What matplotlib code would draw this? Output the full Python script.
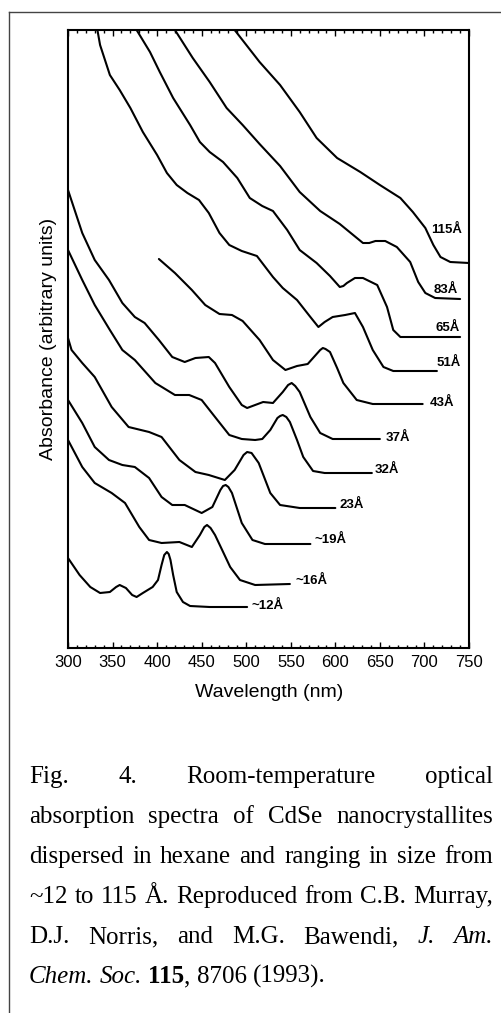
import re
import matplotlib
matplotlib.use('Agg')
import matplotlib.pyplot as plt
from matplotlib.lines import Line2D
from matplotlib.ticker import MultipleLocator

# CdSe absorption spectra
# wavelength in nm, absorbance in arbitrary units (curves are offset)
wl_115 = [487, 515, 538, 560, 579, 602, 628, 650, 673, 687, 701, 710, 718, 729, 750]
ab_115 = [6.18, 5.86, 5.63, 5.36, 5.10, 4.90, 4.76, 4.63, 4.50, 4.36, 4.20, 4.03, 3.91, 3.86, 3.85]

wl_83 = [420, 440, 459, 478, 496, 515, 538, 560, 583, 605, 631, 638, 645, 656, 669, 684, 693, 701, 712, 740]
ab_83 = [6.18, 5.90, 5.66, 5.40, 5.23, 5.04, 4.82, 4.56, 4.37, 4.24, 4.05, 4.05, 4.07, 4.07, 4.01, 3.86, 3.66, 3.55, 3.50, 3.49]

wl_65 = [377, 392, 403, 418, 437, 448, 459, 474, 490, 504, 518, 530, 546, 560, 579, 594, 605, 609, 613, 622, 631, 647, 658, 665, 673, 740]
ab_65 = [6.18, 5.96, 5.76, 5.50, 5.23, 5.06, 4.96, 4.86, 4.70, 4.50, 4.42, 4.37, 4.18, 3.98, 3.85, 3.72, 3.61, 3.62, 3.65, 3.70, 3.70, 3.63, 3.41, 3.18, 3.11, 3.11]

wl_51 = [333, 336, 347, 358, 370, 384, 400, 411, 422, 434, 447, 458, 470, 481, 495, 512, 530, 541, 557, 572, 581, 588, 597, 611, 622, 631, 642, 654, 665, 714]
ab_51 = [6.18, 6.03, 5.73, 5.58, 5.40, 5.16, 4.93, 4.75, 4.63, 4.55, 4.48, 4.35, 4.15, 4.03, 3.97, 3.92, 3.71, 3.60, 3.48, 3.31, 3.21, 3.26, 3.31, 3.33, 3.35, 3.21, 2.98, 2.81, 2.77, 2.77]

wl_43 = [402, 420, 439, 454, 470, 484, 496, 515, 530, 544, 557, 569, 578, 583, 586, 589, 594, 602, 609, 624, 642, 698]
ab_43 = [3.89, 3.75, 3.58, 3.43, 3.34, 3.33, 3.27, 3.08, 2.88, 2.78, 2.82, 2.84, 2.93, 2.98, 3.00, 2.99, 2.96, 2.80, 2.65, 2.48, 2.44, 2.44]

wl_37 = [300, 316, 330, 346, 361, 375, 386, 402, 417, 431, 443, 458, 465, 481, 495, 501, 519, 530, 541, 547, 551, 555, 560, 572, 583, 597, 650]
ab_37 = [4.58, 4.15, 3.88, 3.68, 3.45, 3.31, 3.25, 3.08, 2.91, 2.86, 2.90, 2.91, 2.85, 2.61, 2.43, 2.40, 2.46, 2.45, 2.56, 2.63, 2.65, 2.62, 2.56, 2.31, 2.15, 2.09, 2.09]

wl_32 = [300, 316, 330, 347, 361, 375, 398, 420, 436, 450, 465, 481, 495, 510, 518, 527, 535, 538, 541, 545, 549, 557, 564, 575, 588, 641]
ab_32 = [3.98, 3.68, 3.43, 3.18, 2.98, 2.88, 2.65, 2.53, 2.53, 2.48, 2.31, 2.13, 2.09, 2.08, 2.09, 2.18, 2.30, 2.32, 2.33, 2.31, 2.26, 2.08, 1.91, 1.77, 1.75, 1.75]

wl_23 = [300, 304, 316, 330, 349, 368, 391, 405, 425, 443, 458, 476, 487, 497, 501, 506, 514, 527, 538, 560, 600]
ab_23 = [3.10, 2.98, 2.85, 2.71, 2.41, 2.21, 2.16, 2.11, 1.88, 1.76, 1.73, 1.68, 1.78, 1.93, 1.96, 1.95, 1.85, 1.55, 1.43, 1.40, 1.40]

wl_19 = [300, 316, 330, 346, 361, 375, 391, 405, 417, 431, 450, 462, 471, 474, 477, 480, 484, 495, 507, 521, 572]
ab_19 = [2.48, 2.25, 2.01, 1.88, 1.83, 1.81, 1.70, 1.51, 1.43, 1.43, 1.35, 1.41, 1.58, 1.62, 1.63, 1.61, 1.55, 1.25, 1.08, 1.04, 1.04]

wl_16 = [300, 316, 330, 349, 364, 380, 391, 405, 425, 439, 448, 453, 456, 460, 465, 473, 482, 493, 510, 549]
ab_16 = [2.08, 1.81, 1.65, 1.55, 1.45, 1.21, 1.08, 1.05, 1.06, 1.01, 1.13, 1.21, 1.23, 1.20, 1.13, 0.98, 0.81, 0.68, 0.63, 0.64]

wl_12 = [300, 313, 325, 336, 347, 354, 358, 365, 372, 377, 384, 395, 401, 405, 408, 411, 413, 415, 418, 422, 429, 437, 459, 501]
ab_12 = [0.90, 0.73, 0.61, 0.55, 0.56, 0.61, 0.63, 0.60, 0.53, 0.51, 0.55, 0.61, 0.68, 0.83, 0.93, 0.96, 0.94, 0.88, 0.73, 0.56, 0.46, 0.42, 0.41, 0.41]

spectra = [(wl_115, ab_115), (wl_83, ab_83), (wl_65, ab_65), (wl_51, ab_51),
           (wl_43, ab_43), (wl_37, ab_37), (wl_32, ab_32), (wl_23, ab_23),
           (wl_19, ab_19), (wl_16, ab_16), (wl_12, ab_12)]
size_labels = ['115Å', '83Å', '65Å', '51Å', '43Å', '37Å', '32Å', '23Å', '~19Å', '~16Å', '~12Å']
# where each size label sits (nm, arb. units)
label_pos = [(708, 4.18), (710, 3.58), (712, 3.20), (714, 2.85), (706, 2.45), (656, 2.10),
             (644, 1.78), (605, 1.43), (577, 1.08), (555, 0.67), (506, 0.42)]

caption_lines = [
    "Fig. 4. Room-temperature optical",
    "absorption spectra of CdSe nanocrystallites",
    "dispersed in hexane and ranging in size from",
    "~12 to 115 Å. Reproduced from C.B. Murray,",
    "D.J. Norris, and M.G. Bawendi, *J.* *Am.*",
    "*Chem.* *Soc.* **115**, 8706 (1993).",
]

W, H = 502, 1013
fig = plt.figure(figsize=(W / 100, H / 100), dpi=100)
fig.patch.set_facecolor('white')

sans = ['Liberation Sans', 'DejaVu Sans']
ax = fig.add_axes([68 / W, 1 - 648 / H, 401 / W, 618 / H])
for wl, ab in spectra:
    ax.plot(wl, ab, color='black', lw=1.5, solid_joinstyle='round', solid_capstyle='round')
for txt, (x, y) in zip(size_labels, label_pos):
    ax.text(x, y, txt, ha='left', va='center', fontsize=9.5, family=sans, weight='bold')

ax.set_xlim(300, 750)
ax.set_ylim(0, 6.18)
ax.xaxis.set_major_locator(MultipleLocator(50))
ax.xaxis.set_minor_locator(MultipleLocator(10))
ax.set_yticks([])
ax.tick_params(axis='x', which='both', direction='in', top=True, bottom=True, width=1.0)
ax.tick_params(axis='x', which='major', length=4, pad=5, labelsize=12)
ax.tick_params(axis='x', which='minor', length=2)
for lab in ax.get_xticklabels():
    lab.set_family(sans)
for s in ax.spines.values():
    s.set_linewidth(1.5)

ax.set_xlabel('Wavelength (nm)', fontsize=14, family=sans)
ax.set_ylabel('Absorbance (arbitrary units)', fontsize=14, family=sans)
ax.xaxis.set_label_coords(0.502, -0.058)
ax.yaxis.set_label_coords(-0.028, 0.5)

# border of the figure panel (top and left only)
fig.add_artist(Line2D([9 / W, 1], [1 - 12 / H, 1 - 12 / H], color='#444444', lw=1.0))
fig.add_artist(Line2D([9 / W, 9 / W], [0, 1 - 12 / H], color='#444444', lw=1.0))

# caption, justified
serif = ['Liberation Serif', 'DejaVu Serif']
cap_size = 18
left, right = 29, 493
renderer = fig.canvas.get_renderer()
styles = {'n': dict(), 'i': dict(style='italic'), 'b': dict(weight='bold')}


def parse_word(word):
    segs = []
    for b, i, n in re.findall(r'\*\*(.+?)\*\*|\*(.+?)\*|([^*]+)', word):
        if b:
            segs.append((b, 'b'))
        elif i:
            segs.append((i, 'i'))
        else:
            segs.append((n, 'n'))
    return segs


def width_of(t):
    return t.get_window_extent(renderer).width


probe1 = fig.text(0, 0, 'x x', fontsize=cap_size, family=serif)
probe2 = fig.text(0, 0, 'xx', fontsize=cap_size, family=serif)
space_w = width_of(probe1) - width_of(probe2)
probe1.remove()
probe2.remove()

for k, line in enumerate(caption_lines):
    baseline = 783 + 40 * k
    words = []
    for w in line.split(' '):
        parts = []
        for seg, st in parse_word(w):
            t = fig.text(0, 1 - baseline / H, seg, fontsize=cap_size, family=serif,
                         va='baseline', ha='left', **styles[st])
            parts.append((t, width_of(t)))
        words.append(parts)
    wsum = [sum(p[1] for p in parts) for parts in words]
    if k < len(caption_lines) - 1 and len(words) > 1:
        gap = (right - left - sum(wsum)) / (len(words) - 1)
    else:
        gap = space_w
    x = left
    for parts, ww in zip(words, wsum):
        xx = x
        for t, tw in parts:
            t.set_x(xx / W)
            xx += tw
        x += ww + gap

fig.savefig('out.png', dpi=100, facecolor='white')
